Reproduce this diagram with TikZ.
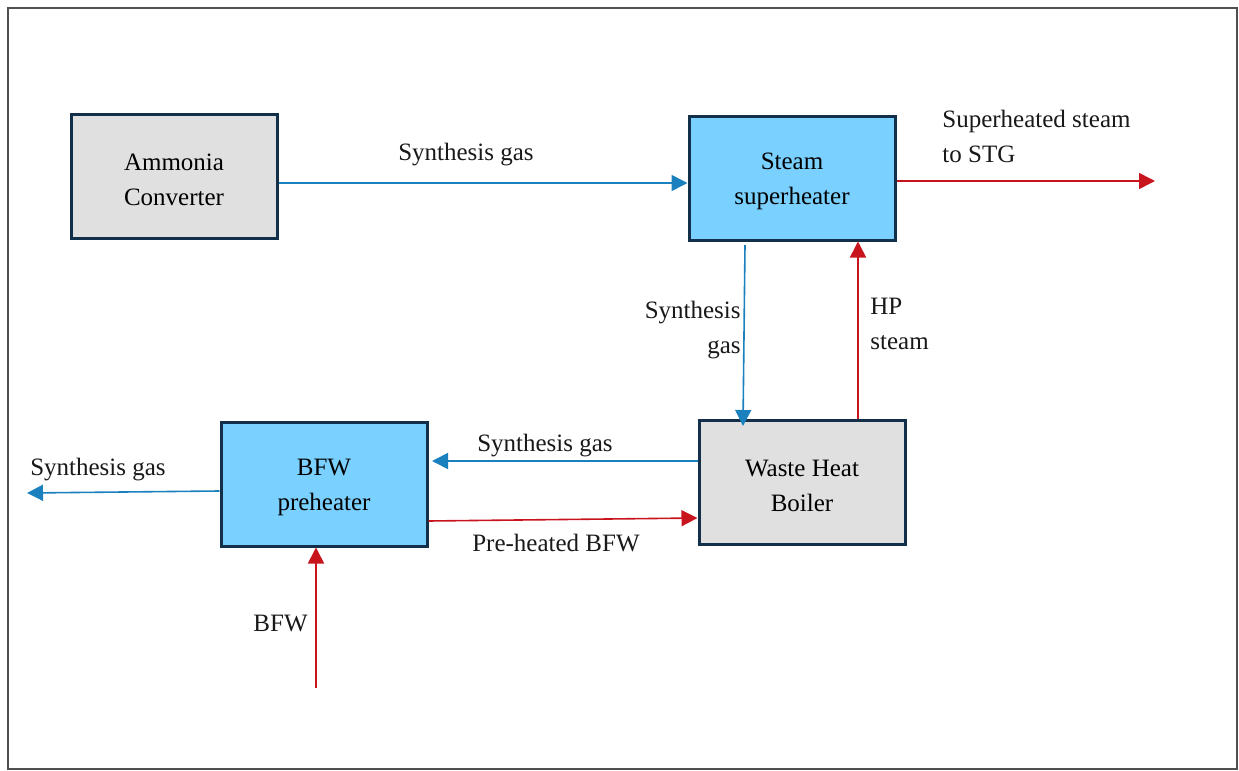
\documentclass[tikz,border=0pt]{standalone}
\usepackage{fontspec}
\setmainfont{Liberation Serif}
\usetikzlibrary{arrows.meta}
\definecolor{boxgray}{HTML}{E0E0E0}
\definecolor{boxblue}{HTML}{7AD0FF}
\definecolor{boxedge}{HTML}{12304A}
\definecolor{flowblue}{HTML}{1A80BE}
\definecolor{flowred}{HTML}{C8141C}
\definecolor{framegray}{HTML}{505050}
\newcommand{\bxup}{\rule{0pt}{12pt}}
\tikzset{
  unitbox/.style={draw=boxedge, line width=1.5pt, minimum width=103pt, minimum height=62pt,
    align=center, inner sep=0pt, font=\fontsize{12.5}{17.5}\selectfont},
  graybox/.style={unitbox, fill=boxgray},
  bluebox/.style={unitbox, fill=boxblue},
  gasflow/.style={draw=flowblue, line width=0.8pt, -{Triangle[length=8pt,width=8pt]}},
  steamflow/.style={draw=flowred, line width=0.8pt, -{Triangle[length=8pt,width=8pt]}},
  flowlabel/.style={font=\fontsize{12.5}{17.5}\selectfont, inner sep=0pt, text=black!90}
}
\begin{document}
\begin{tikzpicture}[x=0.5pt,y=-0.5pt]
\useasboundingbox (0,0) rectangle (1239,771);
\draw[framegray, line width=1pt] (8,8) rectangle (1237,769);

\node[graybox] (amc) at (174,176) {\bxup Ammonia\\Converter};
\node[bluebox] (ssh) at (792,178) {\bxup Steam\\superheater};
\node[graybox] (whb) at (802,482) {\bxup Waste Heat\\Boiler};
\node[bluebox] (bfw) at (324,484) {\bxup BFW\\preheater};

\coordinate (stgend) at (1155,181);
\coordinate (gasout) at (27,493);
\coordinate (bfwin) at (316,688);
\coordinate (sshgas) at (745,245);
\coordinate (whbgas) at (743,426);

\draw[gasflow] (amc.east |- 0,183) -- (ssh.west |- 0,183);
\node[flowlabel] (l1) at (466,155) {Synthesis gas};

\draw[steamflow] (ssh.east |- 0,181) -- (stgend);
\node[flowlabel, align=left, anchor=north west] (l2) at (942,110) {Superheated steam\\to STG};

\draw[gasflow] (sshgas) -- (whbgas);
\node[flowlabel, align=right, anchor=north east] (l3) at (741,301) {Synthesis\\gas};

\draw[steamflow] (whb.north -| 858,0) -- (ssh.south -| 858,0);
\node[flowlabel, align=left, anchor=north west] (l4) at (870,298) {HP\\steam};

\draw[gasflow] (whb.west |- 0,461) -- (432,461);
\node[flowlabel] (l5) at (545,446) {Synthesis gas};

\draw[gasflow] (bfw.west |- 0,491) -- (gasout);
\node[flowlabel] (l6) at (98,470) {Synthesis gas};

\draw[steamflow] (bfw.east |- 0,521) -- (whb.west |- 0,518);
\node[flowlabel] (l7) at (556,543) {Pre-heated BFW};

\draw[steamflow] (bfwin) -- (bfw.south -| 316,0);
\node[flowlabel, anchor=east] (l8) at (308,624) {BFW};
\end{tikzpicture}
\end{document}
